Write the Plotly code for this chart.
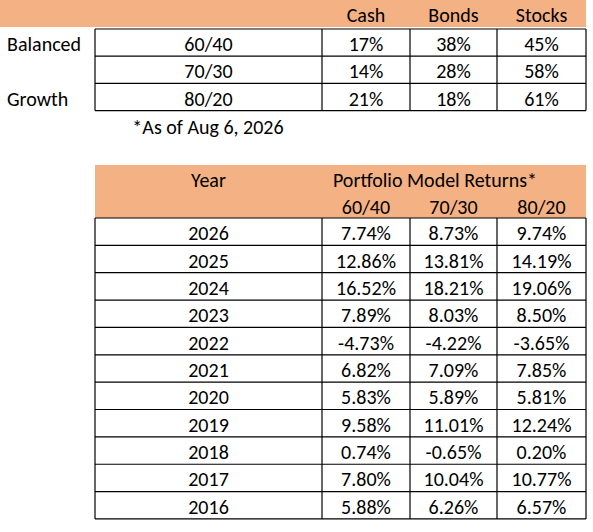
import plotly.graph_objects as go

# allocation table
alloc_labels = ["Balanced", "", "Growth"]
alloc_models = ["60/40", "70/30", "80/20"]
alloc_assets = ["Cash", "Bonds", "Stocks"]
cash = [17, 14, 21]
bonds = [38, 28, 18]
stocks = [45, 58, 61]
note = "*As of Aug 6, 2026"

# returns table
years = [2026, 2025, 2024, 2023, 2022, 2021, 2020, 2019, 2018, 2017, 2016]
ret_models = ["60/40", "70/30", "80/20"]
r_60_40 = [7.74, 12.86, 16.52, 7.89, -4.73, 6.82, 5.83, 9.58, 0.74, 7.80, 5.88]
r_70_30 = [8.73, 13.81, 18.21, 8.03, -4.22, 7.09, 5.89, 11.01, -0.65, 10.04, 6.26]
r_80_20 = [9.74, 14.19, 19.06, 8.50, -3.65, 7.85, 5.81, 12.24, 0.20, 10.77, 6.57]

W, H = 593, 532
ORANGE = "#F4B183"
FONT = "Carlito, Lato, sans-serif"
FS = 20
DY = 2  # text sits a little below the cell middle, like Excel's bottom alignment

# grid (pixels)
col_x = [95, 322, 410, 497, 586]
top_row0, top_rh = 29, 27.2
bot_row0, bot_rh = 218, 27.36

fig = go.Figure()
shapes = []

def line(x0, y0, x1, y1):
    shapes.append(dict(type="line", x0=x0, y0=y0, x1=x1, y1=y1,
                       line=dict(color="black", width=1.2), layer="above"))

def text_trace(xs, ys, texts, anchor="middle center"):
    fig.add_trace(go.Scatter(x=xs, y=[y + DY for y in ys], text=texts, mode="text",
                             textposition=anchor,
                             textfont=dict(family=FONT, size=FS, color="black"),
                             hoverinfo="skip", showlegend=False))

centers = [(col_x[i] + col_x[i + 1]) / 2 for i in range(4)]

# ---- top table ----
shapes.append(dict(type="rect", x0=0, x1=586, y0=0, y1=27, fillcolor=ORANGE,
                   line=dict(width=0), layer="below"))
text_trace(centers[1:], [15] * 3, alloc_assets)
n_top = len(alloc_models)
for i in range(n_top + 1):
    line(col_x[0], top_row0 + i * top_rh, col_x[-1], top_row0 + i * top_rh)
for x in col_x:
    line(x, top_row0, x, top_row0 + n_top * top_rh)
ty = [top_row0 + (i + 0.5) * top_rh + 1.5 for i in range(n_top)]
text_trace([7] * n_top, ty, alloc_labels, "middle right")
text_trace([centers[0]] * n_top, ty, alloc_models)
for c, vals in zip(centers[1:], [cash, bonds, stocks]):
    text_trace([c] * n_top, ty, [f"{v}%" for v in vals])
text_trace([208], [127], [note])

# ---- returns table ----
shapes.append(dict(type="rect", x0=col_x[0], x1=col_x[-1], y0=165, y1=bot_row0,
                   fillcolor=ORANGE, line=dict(width=0), layer="below"))
text_trace([centers[0]], [180], ["Year"])
text_trace([435], [180], ["Portfolio Model Returns*"])
text_trace(centers[1:], [207] * 3, ret_models)
n_bot = len(years)
for i in range(n_bot + 1):
    line(col_x[0], bot_row0 + i * bot_rh, col_x[-1], bot_row0 + i * bot_rh)
for x in col_x:
    line(x, bot_row0, x, bot_row0 + n_bot * bot_rh)
by = [bot_row0 + (i + 0.5) * bot_rh + 1.5 for i in range(n_bot)]
text_trace([centers[0]] * n_bot, by, [str(y) for y in years])
for c, vals in zip(centers[1:], [r_60_40, r_70_30, r_80_20]):
    text_trace([c] * n_bot, by, [f"{v:.2f}%" for v in vals])

fig.update_layout(
    width=W, height=H, margin=dict(l=0, r=0, t=0, b=0),
    paper_bgcolor="white", plot_bgcolor="white",
    xaxis=dict(range=[0, W], visible=False, fixedrange=True),
    yaxis=dict(range=[H, 0], visible=False, fixedrange=True),
    shapes=shapes,
)
# drop the page's default body margin so the figure sits at the top-left corner
fig.write_html("out.html", config={"responsive": False, "displayModeBar": False},
               post_script="document.body.style.margin='0';document.body.style.overflow='hidden';")
